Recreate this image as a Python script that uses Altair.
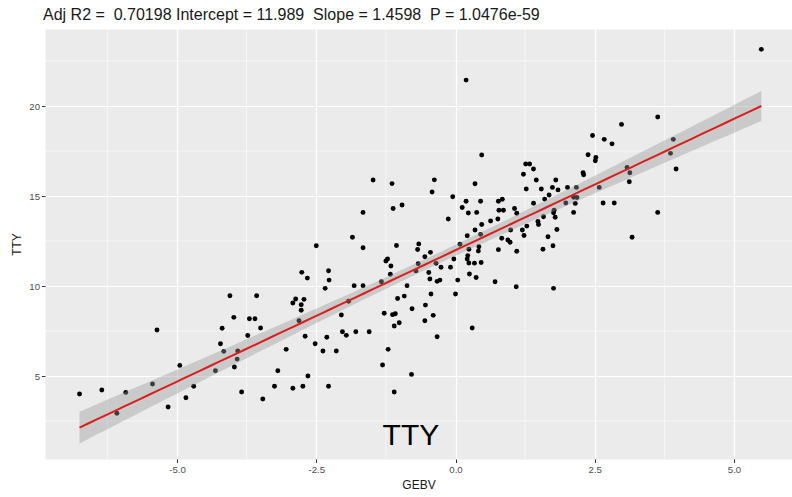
import altair as alt
import numpy as np
import pandas as pd

# Genomic estimated breeding values and observed TTY
gebv = [
    -6.75, -6.35, -6.08, -5.92, -5.36, -5.44, -5.16, -4.95, -4.84, -4.70,
    -4.31, -4.22, -4.16, -4.19, -4.05, -3.98, -3.97, -3.92, -3.84, -3.57,
    -3.70, -3.60, -3.50, -3.73, -3.91, -1.48, -1.66, -1.85, -1.66, -2.50,
    -2.76, -2.66, -2.28, -2.27, -2.34, -1.82, -1.66, -1.33, -3.46, -3.19,
    -3.25, -3.04, -2.92, -2.74, -2.65, -2.70, -2.87, -2.92, -2.77, -2.72,
    -2.77, -2.81, -2.52, -2.31, -2.38, -2.14, -2.05, -2.03, -1.96, -1.79,
    -1.55, -1.92, -2.28, -1.31, -1.21, -1.10, -0.79, -1.14, -1.12, -1.06,
    -1.25, -1.22, -1.16, -1.17, -1.04, -1.28, -1.13, -1.08, -1.10, -1.01,
    0.19, 0.47, -0.96, -0.38, -0.42, 0.35, 1.26, 1.33, 1.40, 1.22,
    1.45, 1.80, 1.27, 1.54, 1.74, 1.84, 2.01, 2.17, -0.05, -0.13,
    0.12, 0.19, 0.23, 0.38, 0.45, 0.77, 0.84, 0.78, 0.86, 1.06,
    1.10, 1.40, 1.60, 1.68, 1.77, 1.98, 2.15, 2.12, 0.47, 0.35,
    0.21, 0.45, 0.63, 0.76, 0.99, 1.20, 1.23, 1.28, 1.48, 1.49,
    1.58, 1.66, 1.76, 1.79, 1.82, 0.83, 0.94, 0.98, 0.77, 1.10,
    1.57, 1.75, -0.66, -0.68, -0.55, -0.45, -0.71, -0.67, -0.87, -0.92,
    -0.78, -0.54, -0.55, -0.40, -0.33, -0.44, -0.48, -0.46, -0.35, -0.26,
    -0.33, -0.28, -0.09, -0.03, 0.04, 0.00, 0.08, 0.24, 0.22, 0.21,
    0.24, 0.34, 0.25, 0.37, 0.42, 0.41, 0.46, 0.30, 0.71, 1.09,
    1.76, 2.12, 2.18, 2.98, 2.46, 2.67, 2.81, 2.38, 2.52, 2.51,
    2.29, 2.30, 3.08, 3.13, 3.12, 2.58, 2.65, 2.85, 3.63, 3.91,
    3.86, 3.96, 3.63, 3.17, 5.49,
]
tty = [
    4.00, 4.22, 2.93, 4.09, 7.56, 4.56, 3.28, 5.59, 3.79, 4.43,
    5.29, 6.79, 6.37, 7.65, 9.46, 8.26, 5.50, 5.94, 4.11, 9.46,
    8.18, 8.18, 7.67, 7.25, 6.39, 15.89, 14.09, 12.71, 12.13, 12.24,
    10.76, 10.44, 10.85, 10.33, 9.87, 10.02, 10.02, 10.24, 3.72, 5.29,
    4.43, 6.48, 4.32, 4.43, 5.00, 7.21, 9.28, 9.06, 8.96, 9.26,
    8.65, 8.07, 6.79, 7.15, 6.39, 6.39, 8.39, 7.46, 7.26, 7.46,
    7.46, 9.15, 4.43, 5.61, 6.48, 4.11, 5.09, 15.69, 14.31, 12.25,
    11.39, 11.50, 11.11, 10.65, 9.31, 8.49, 8.41, 8.46, 7.78, 7.96,
    21.44, 17.28, 14.50, 15.90, 15.22, 15.68, 16.78, 16.78, 16.50, 16.21,
    15.89, 15.89, 15.39, 15.39, 15.48, 15.34, 15.48, 15.48, 14.96, 13.72,
    14.36, 14.71, 14.06, 14.09, 14.71, 14.71, 14.82, 14.21, 14.21, 14.31,
    14.04, 14.60, 14.83, 15.06, 14.21, 14.61, 14.59, 14.09, 13.42, 13.11,
    12.79, 12.87, 13.61, 13.72, 13.11, 13.11, 12.81, 13.33, 13.59, 13.42,
    13.85, 12.74, 14.07, 13.82, 13.14, 12.65, 12.56, 12.43, 12.02, 11.93,
    12.04, 12.24, 12.34, 12.03, 11.63, 11.87, 10.84, 11.24, 10.02, 9.44,
    8.74, 8.94, 8.07, 8.37, 7.18, 9.56, 10.75, 10.39, 11.26, 11.04,
    10.26, 10.33, 11.04, 11.50, 10.33, 9.56, 12.32, 12.04, 11.69, 11.50,
    11.28, 11.27, 10.67, 10.47, 12.18, 11.94, 11.31, 7.67, 10.24, 9.96,
    9.87, 14.93, 14.92, 18.98, 18.36, 18.15, 17.90, 17.29, 17.14, 16.96,
    16.29, 16.18, 16.59, 16.29, 15.79, 15.48, 14.61, 14.61, 19.39, 18.15,
    17.37, 16.50, 14.09, 12.71, 23.15,
]

# Reported model statistics
adj_r2 = "0.70198"
intercept = 11.989
slope = 1.4598
p_value = "1.0476e-59"

# Axis breaks
x_major = [-5.0, -2.5, 0.0, 2.5, 5.0]
x_minor = [-6.25, -3.75, -1.25, 1.25, 3.75]
y_major = [5, 10, 15, 20]
y_minor = [2.5, 7.5, 12.5, 17.5, 22.5]

# Panel annotation
note_text = ["TTY"]
note_x = [-0.80]
note_y = [1.17]

FONT = "Liberation Sans"

points = pd.DataFrame({"GEBV": gebv, "TTY": tty})

# Fitted line with a 95% confidence band (ordinary least squares)
xs = np.asarray(gebv)
ys = np.asarray(tty)
n = len(xs)
resid = ys - (intercept + slope * xs)
s = np.sqrt(np.sum(resid ** 2) / (n - 2))
xbar = xs.mean()
sxx = np.sum((xs - xbar) ** 2)
grid = np.linspace(xs.min(), xs.max(), 80)
fit = intercept + slope * grid
half = 1.972 * s * np.sqrt(1.0 / n + (grid - xbar) ** 2 / sxx)
smooth = pd.DataFrame({"GEBV": grid, "fit": fit, "lo": fit - half, "hi": fit + half})

x_scale = alt.Scale(domain=[-7.37, 6.041], nice=False, zero=False)
y_scale = alt.Scale(domain=[0.389, 24.28], nice=False, zero=False)

x_axis = alt.Axis(
    values=x_major,
    labelExpr="datum.value < 0 ? '-' + format(-datum.value, '.1f') : format(datum.value, '.1f')",
    title="GEBV",
)
y_axis = alt.Axis(values=y_major, format="d", title="TTY")

minor_v = alt.Chart(pd.DataFrame({"x": x_minor})).mark_rule(
    color="white", strokeWidth=0.6
).encode(x=alt.X("x:Q", scale=x_scale, axis=x_axis))

minor_h = alt.Chart(pd.DataFrame({"y": y_minor})).mark_rule(
    color="white", strokeWidth=0.6
).encode(y=alt.Y("y:Q", scale=y_scale, axis=y_axis))

dots = alt.Chart(points).mark_circle(color="black", opacity=1, size=24).encode(
    x=alt.X("GEBV:Q", scale=x_scale, axis=x_axis),
    y=alt.Y("TTY:Q", scale=y_scale, axis=y_axis),
)

band = alt.Chart(smooth).mark_area(color="#999999", opacity=0.4).encode(
    x=alt.X("GEBV:Q", scale=x_scale, axis=x_axis),
    y=alt.Y("lo:Q", scale=y_scale, axis=y_axis),
    y2="hi:Q",
)

line = alt.Chart(smooth).mark_line(color="#D91E1E", strokeWidth=2).encode(
    x=alt.X("GEBV:Q", scale=x_scale, axis=x_axis),
    y=alt.Y("fit:Q", scale=y_scale, axis=y_axis),
)

note = alt.Chart(pd.DataFrame({"t": note_text, "x": note_x, "y": note_y})).mark_text(
    font=FONT, fontSize=30, color="black", align="center", baseline="alphabetic"
).encode(
    x=alt.X("x:Q", scale=x_scale, axis=x_axis),
    y=alt.Y("y:Q", scale=y_scale, axis=y_axis),
    text="t:N",
)

# Doubled gaps kept with non-breaking spaces so SVG does not collapse them
gap = "\u00a0\u00a0"
title_text = (
    f"Adj R2 ={gap}{adj_r2} Intercept = {intercept}{gap}"
    f"Slope = {slope}{gap}P = {p_value}"
)

chart = alt.layer(minor_v, minor_h, dots, band, line, note).properties(
    width=747,
    height=430,
    background="white",
    autosize=alt.AutoSizeParams(type="none"),
    padding={"left": 45, "top": 29, "right": 0, "bottom": 38},
    title=alt.TitleParams(
        text=title_text,
        anchor="start",
        frame="group",
        font=FONT,
        fontSize=16,
        fontWeight="normal",
        color="#1A1A1A",
        offset=6,
        dx=-2,
    ),
).configure_view(
    fill="#EBEBEB", stroke="transparent"
).configure_axis(
    grid=True,
    gridColor="white",
    gridWidth=1.2,
    domain=False,
    tickColor="#333333",
    tickSize=3.5,
    tickWidth=1,
    labelColor="#4D4D4D",
    labelFont=FONT,
    labelFontSize=9.6,
    labelPadding=2,
    titleFont=FONT,
    titleFontSize=12,
    titleFontWeight="normal",
    titleColor="#1A1A1A",
    titlePadding=5,
)

chart.save("out.html", embed_options={"renderer": "svg", "actions": False})
